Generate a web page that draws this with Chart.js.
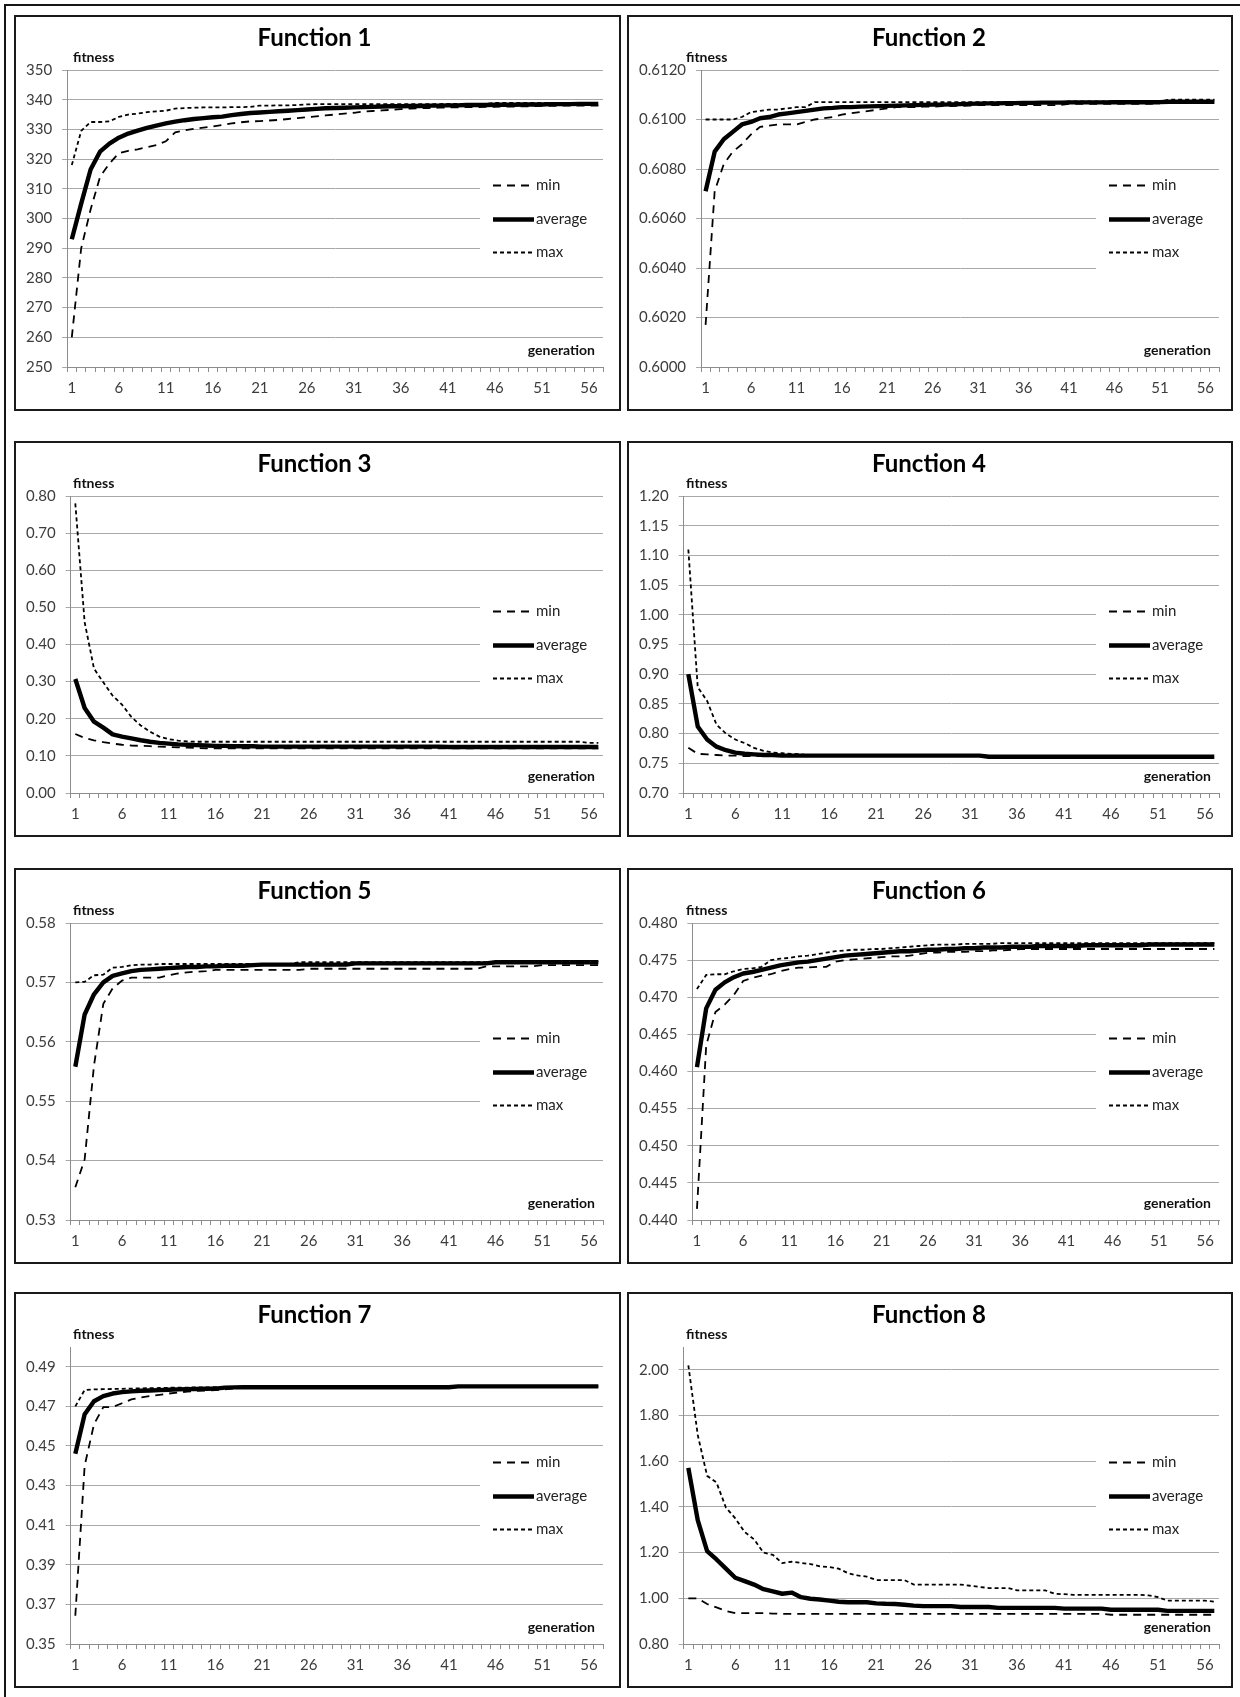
<!DOCTYPE html>
<html>
<head>
<meta charset="utf-8">
<script src="https://cdn.jsdelivr.net/npm/chart.js@4.4.1/dist/chart.umd.min.js"></script>
<style>
html,body{margin:0;padding:0;background:#fff;}
#page{position:relative;width:1240px;height:1697px;background:#fff;overflow:hidden;}
.frameL{position:absolute;left:4px;top:4px;width:2px;height:1693px;background:#151515;}
.frameT{position:absolute;left:4px;top:4px;width:1236px;height:2px;background:#151515;}
.panel{position:absolute;box-sizing:border-box;border:2px solid #1a1a1a;background:#fff;}
.panel canvas{display:block;}
</style>
</head>
<body>
<div id="page"><div class="frameL"></div><div class="frameT"></div></div>
<script>
// ---------- categories ----------
const generations = [1,2,3,4,5,6,7,8,9,10,11,12,13,14,15,16,17,18,19,20,21,22,23,24,25,26,27,28,29,30,
  31,32,33,34,35,36,37,38,39,40,41,42,43,44,45,46,47,48,49,50,51,52,53,54,55,56,57];
const seriesNames = ['min', 'average', 'max'];
const yAxisTitle = 'fitness';
const xAxisTitle = 'generation';
const panelTitles = ['Function 1','Function 2','Function 3','Function 4','Function 5','Function 6','Function 7','Function 8'];

// ---------- Function 1 ----------
const f1Min = [260,290,303,314,318.5,322,322.8,323.3,324,324.7,
  326,329,329.7,330.2,330.6,331,331.5,332,332.4,332.7,
  332.8,333,333.2,333.5,333.8,334.1,334.4,334.7,335,335.3,
  335.6,336,336.2,336.4,336.6,336.8,337,337.1,337.2,337.3,
  337.4,337.4,337.5,337.5,337.6,337.6,337.7,337.7,337.8,337.8,
  337.9,337.9,338,338,338,338,338];
const f1Avg = [293,305,316.5,322.5,325.2,327.2,328.6,329.6,330.5,331.3,
  332,332.6,333.1,333.5,333.8,334.1,334.3,334.8,335.2,335.5,
  335.7,335.9,336.1,336.3,336.5,336.7,336.9,337.1,337.2,337.3,
  337.4,337.5,337.6,337.7,337.8,337.8,337.9,337.9,338,338,
  338.1,338.1,338.2,338.2,338.2,338.3,338.3,338.3,338.4,338.4,
  338.4,338.5,338.5,338.5,338.6,338.6,338.6];
const f1Max = [318,329.5,332.5,332.5,332.7,334.2,335,335.3,335.8,336.1,
  336.3,337,337.2,337.3,337.4,337.4,337.4,337.5,337.5,337.6,
  338,338,338.1,338.1,338.2,338.4,338.5,338.5,338.5,338.5,
  338.5,338.5,338.5,338.5,338.5,338.5,338.5,338.5,338.5,338.5,
  338.6,338.6,338.6,338.6,338.6,338.9,338.9,338.9,338.9,338.9,
  338.9,338.9,338.9,338.9,338.9,338.9,338.9];
const f1Ticks = [250,260,270,280,290,300,310,320,330,340,350];

// ---------- Function 2 ----------
const f2Min = [0.6017,0.6071,0.6082,0.6087,0.609,0.6094,0.6097,0.60975,0.6098,0.6098,
  0.6098,0.6099,0.61,0.61005,0.6101,0.6102,0.61025,0.6103,0.61035,0.6104,
  0.61045,0.6105,0.6105,0.6105,0.61052,0.61052,0.61054,0.61054,0.61055,0.61056,
  0.61058,0.61058,0.61058,0.61058,0.61058,0.61058,0.61058,0.61058,0.61058,0.61058,
  0.61063,0.61063,0.61063,0.61063,0.61063,0.61063,0.61063,0.61063,0.61063,0.61063,
  0.61068,0.61068,0.61068,0.61068,0.61068,0.61068,0.61068];
const f2Avg = [0.6071,0.6087,0.6092,0.6095,0.6098,0.6099,0.61005,0.6101,0.6102,0.61025,
  0.6103,0.61035,0.6104,0.61045,0.61047,0.6105,0.6105,0.61052,0.61053,0.61054,
  0.61055,0.61056,0.61057,0.61058,0.61059,0.6106,0.6106,0.61061,0.61062,0.61063,
  0.61064,0.61065,0.61065,0.61066,0.61066,0.61067,0.61067,0.61068,0.61068,0.61068,
  0.61069,0.61069,0.61069,0.61069,0.61069,0.6107,0.6107,0.6107,0.6107,0.6107,
  0.6107,0.61072,0.61072,0.61072,0.61072,0.61072,0.61072];
const f2Max = [0.61,0.61,0.61,0.61,0.6101,0.6103,0.61035,0.6104,0.6104,0.61045,
  0.6105,0.6105,0.6107,0.6107,0.6107,0.6107,0.6107,0.6107,0.6107,0.6107,
  0.6107,0.6107,0.6107,0.6107,0.6107,0.6107,0.6107,0.6107,0.6107,0.6107,
  0.6107,0.6107,0.6107,0.6107,0.6107,0.6107,0.6107,0.6107,0.6107,0.6107,
  0.61073,0.61073,0.61073,0.61073,0.61073,0.61073,0.61073,0.61073,0.61073,0.61073,
  0.61073,0.6108,0.6108,0.6108,0.6108,0.6108,0.6108];
const f2Ticks = [0.6,0.602,0.604,0.606,0.608,0.61,0.612];

// ---------- Function 3 ----------
const f3Min = [0.159,0.148,0.142,0.137,0.133,0.13,0.128,0.127,0.126,0.125,
  0.124,0.123,0.122,0.121,0.12,0.12,0.12,0.12,0.12,0.12,
  0.12,0.12,0.12,0.12,0.12,0.12,0.12,0.12,0.12,0.12,
  0.12,0.12,0.12,0.12,0.12,0.12,0.12,0.12,0.12,0.12,
  0.12,0.12,0.12,0.12,0.12,0.12,0.12,0.12,0.12,0.12,
  0.12,0.12,0.12,0.12,0.12,0.12,0.12];
const f3Avg = [0.307,0.229,0.192,0.176,0.158,0.152,0.147,0.142,0.138,0.135,
  0.133,0.131,0.13,0.129,0.128,0.127,0.127,0.126,0.126,0.126,
  0.125,0.125,0.125,0.125,0.125,0.125,0.125,0.125,0.125,0.125,
  0.125,0.125,0.125,0.125,0.125,0.125,0.125,0.125,0.125,0.125,
  0.124,0.124,0.124,0.124,0.124,0.124,0.124,0.124,0.124,0.124,
  0.124,0.124,0.124,0.124,0.124,0.124,0.124];
const f3Max = [0.78,0.46,0.335,0.298,0.262,0.238,0.205,0.182,0.165,0.152,
  0.145,0.141,0.139,0.138,0.138,0.138,0.138,0.138,0.138,0.138,
  0.138,0.138,0.138,0.138,0.138,0.138,0.138,0.138,0.138,0.138,
  0.138,0.138,0.138,0.138,0.138,0.138,0.138,0.138,0.138,0.138,
  0.138,0.138,0.138,0.138,0.138,0.138,0.138,0.138,0.138,0.138,
  0.138,0.138,0.138,0.138,0.138,0.135,0.135];
const f3Ticks = [0,0.1,0.2,0.3,0.4,0.5,0.6,0.7,0.8];

// ---------- Function 4 ----------
const f4Min = [0.776,0.766,0.765,0.764,0.763,0.763,0.762,0.762,0.762,0.762,
  0.762,0.762,0.762,0.762,0.762,0.762,0.762,0.762,0.762,0.762,
  0.762,0.762,0.762,0.762,0.762,0.762,0.762,0.762,0.762,0.762,
  0.762,0.762,0.761,0.761,0.761,0.761,0.761,0.761,0.761,0.761,
  0.761,0.761,0.761,0.761,0.761,0.761,0.761,0.761,0.761,0.761,
  0.761,0.761,0.761,0.761,0.761,0.761,0.761];
const f4Avg = [0.9,0.812,0.79,0.778,0.772,0.768,0.766,0.765,0.764,0.764,
  0.763,0.763,0.763,0.763,0.763,0.763,0.763,0.763,0.763,0.763,
  0.763,0.763,0.763,0.763,0.763,0.763,0.763,0.763,0.763,0.763,
  0.763,0.763,0.761,0.761,0.761,0.761,0.761,0.761,0.761,0.761,
  0.761,0.761,0.761,0.761,0.761,0.761,0.761,0.761,0.761,0.761,
  0.761,0.761,0.761,0.761,0.761,0.761,0.761];
const f4Max = [1.11,0.878,0.855,0.815,0.8,0.79,0.784,0.776,0.771,0.768,
  0.767,0.766,0.765,0.763,0.763,0.763,0.763,0.763,0.763,0.763,
  0.763,0.763,0.763,0.763,0.763,0.763,0.763,0.763,0.763,0.763,
  0.763,0.763,0.761,0.761,0.761,0.761,0.761,0.761,0.761,0.761,
  0.761,0.761,0.761,0.761,0.761,0.761,0.761,0.761,0.761,0.761,
  0.761,0.761,0.761,0.761,0.761,0.761,0.761];
const f4Ticks = [0.7,0.75,0.8,0.85,0.9,0.95,1.0,1.05,1.1,1.15,1.2];

// ---------- Function 5 ----------
const f5Min = [0.5355,0.5402,0.556,0.5664,0.569,0.5703,0.5708,0.5708,0.5708,0.5708,
  0.5712,0.5715,0.5717,0.5718,0.5719,0.5721,0.5721,0.5721,0.5721,0.5721,
  0.5721,0.5721,0.5721,0.5721,0.5721,0.5723,0.5723,0.5723,0.5723,0.5723,
  0.5723,0.5723,0.5723,0.5723,0.5723,0.5723,0.5723,0.5723,0.5723,0.5723,
  0.5723,0.5723,0.5723,0.5723,0.5727,0.5727,0.5727,0.5727,0.5727,0.5727,
  0.5729,0.5729,0.5729,0.5729,0.5729,0.5729,0.5729];
const f5Avg = [0.5558,0.5646,0.568,0.57,0.5711,0.5715,0.5719,0.5721,0.5722,0.5723,
  0.5724,0.5725,0.5726,0.5726,0.5727,0.5727,0.5728,0.5728,0.5728,0.5729,
  0.573,0.573,0.573,0.573,0.573,0.573,0.573,0.573,0.573,0.573,
  0.5732,0.5732,0.5732,0.5732,0.5732,0.5732,0.5732,0.5732,0.5732,0.5732,
  0.5732,0.5732,0.5732,0.5732,0.5732,0.5734,0.5734,0.5734,0.5734,0.5734,
  0.5734,0.5734,0.5734,0.5734,0.5734,0.5734,0.5734];
const f5Max = [0.57,0.5701,0.5712,0.5713,0.5725,0.5726,0.5729,0.573,0.573,0.5731,
  0.5731,0.5731,0.5731,0.5731,0.5731,0.5731,0.5731,0.5731,0.5731,0.5731,
  0.5731,0.5731,0.5731,0.5731,0.5734,0.5734,0.5734,0.5734,0.5734,0.5734,
  0.5734,0.5734,0.5734,0.5734,0.5734,0.5734,0.5734,0.5734,0.5734,0.5734,
  0.5734,0.5734,0.5734,0.5734,0.5734,0.5734,0.5734,0.5734,0.5735,0.5735,
  0.5735,0.5735,0.5735,0.5735,0.5735,0.5735,0.5735];
const f5Ticks = [0.53,0.54,0.55,0.56,0.57,0.58];

// ---------- Function 6 ----------
const f6Min = [0.4415,0.4635,0.468,0.469,0.4703,0.4722,0.4726,0.4729,0.4731,0.4735,
  0.4738,0.474,0.474,0.4741,0.4741,0.4748,0.475,0.4751,0.4752,0.4753,
  0.4754,0.4755,0.4755,0.4756,0.4758,0.476,0.476,0.4761,0.4761,0.4761,
  0.4762,0.4762,0.4763,0.4763,0.4764,0.4765,0.4765,0.4765,0.4765,0.4765,
  0.4765,0.4765,0.4765,0.4765,0.4765,0.4765,0.4765,0.4765,0.4765,0.4765,
  0.4765,0.4765,0.4765,0.4765,0.4765,0.4765,0.4765];
const f6Avg = [0.4606,0.4685,0.471,0.472,0.4727,0.4732,0.4734,0.4737,0.474,0.4743,
  0.4745,0.4747,0.4748,0.475,0.4752,0.4754,0.4756,0.4757,0.4758,0.4759,
  0.476,0.4761,0.4762,0.4762,0.4763,0.4764,0.4764,0.4765,0.4765,0.4766,
  0.4766,0.4767,0.4767,0.4767,0.4768,0.4768,0.4768,0.4769,0.4769,0.4769,
  0.4769,0.4769,0.477,0.477,0.477,0.477,0.477,0.477,0.477,0.4771,
  0.4771,0.4771,0.4771,0.4771,0.4771,0.4771,0.4771];
const f6Max = [0.4711,0.473,0.4731,0.4731,0.4735,0.4738,0.4739,0.4741,0.475,0.4752,
  0.4753,0.4755,0.4756,0.4758,0.476,0.4762,0.4763,0.4764,0.4764,0.4765,
  0.4765,0.4766,0.4767,0.4768,0.4769,0.477,0.4771,0.4771,0.4771,0.4772,
  0.4772,0.4772,0.4772,0.4773,0.4773,0.4773,0.4773,0.4773,0.4773,0.4773,
  0.4773,0.4773,0.4773,0.4773,0.4773,0.4773,0.4773,0.4773,0.4773,0.4773,
  0.4773,0.4773,0.4773,0.4773,0.4773,0.4773,0.4773];
const f6Ticks = [0.44,0.445,0.45,0.455,0.46,0.465,0.47,0.475,0.48];

// ---------- Function 7 ----------
const f7Min = [0.3643,0.44,0.461,0.4696,0.4697,0.4716,0.4735,0.4745,0.4752,0.4758,
  0.4765,0.477,0.4775,0.4778,0.478,0.4782,0.4786,0.479,0.4795,0.4797,
  0.4797,0.4797,0.4797,0.4797,0.4797,0.4797,0.4797,0.4797,0.4797,0.4797,
  0.4797,0.4797,0.4797,0.4797,0.4797,0.4797,0.4797,0.4797,0.4797,0.4797,
  0.4797,0.4801,0.4801,0.4801,0.4801,0.4801,0.4801,0.4801,0.4801,0.4801,
  0.4801,0.4801,0.4801,0.4801,0.4801,0.4801,0.4801];
const f7Avg = [0.4461,0.466,0.4726,0.4752,0.4765,0.4772,0.4776,0.4779,0.478,0.4782,
  0.4784,0.4786,0.4787,0.4788,0.4789,0.479,0.4795,0.4796,0.4797,0.4797,
  0.4797,0.4797,0.4797,0.4797,0.4797,0.4797,0.4797,0.4797,0.4797,0.4797,
  0.4797,0.4797,0.4797,0.4797,0.4797,0.4797,0.4797,0.4797,0.4797,0.4797,
  0.4797,0.4801,0.4801,0.4801,0.4801,0.4801,0.4801,0.4801,0.4801,0.4801,
  0.4801,0.4801,0.4801,0.4801,0.4801,0.4801,0.4801];
const f7Max = [0.47,0.4783,0.4786,0.4787,0.4788,0.4789,0.479,0.4791,0.4792,0.4793,
  0.4794,0.4795,0.4795,0.4796,0.4796,0.4797,0.4797,0.4797,0.4798,0.4798,
  0.4798,0.4798,0.4798,0.4798,0.4798,0.4798,0.4798,0.4798,0.4798,0.4798,
  0.4798,0.4798,0.4798,0.4798,0.4798,0.4798,0.4798,0.4798,0.4798,0.4798,
  0.4798,0.4801,0.4801,0.4801,0.4801,0.4801,0.4801,0.4801,0.4801,0.4801,
  0.4801,0.4801,0.4801,0.4801,0.4801,0.4801,0.4801];
const f7Ticks = [0.35,0.37,0.39,0.41,0.43,0.45,0.47,0.49];

// ---------- Function 8 ----------
const f8Min = [1.0,1.0,0.975,0.96,0.945,0.935,0.935,0.935,0.935,0.933,
  0.932,0.932,0.932,0.932,0.932,0.932,0.932,0.932,0.932,0.932,
  0.932,0.932,0.932,0.932,0.932,0.932,0.932,0.932,0.932,0.932,
  0.932,0.932,0.932,0.932,0.932,0.932,0.932,0.932,0.932,0.932,
  0.932,0.932,0.932,0.932,0.932,0.928,0.928,0.928,0.928,0.928,
  0.928,0.928,0.928,0.928,0.928,0.928,0.928];
const f8Avg = [1.571,1.342,1.207,1.17,1.13,1.09,1.075,1.06,1.04,1.03,
  1.02,1.025,1.005,0.998,0.995,0.99,0.985,0.983,0.983,0.983,
  0.978,0.976,0.975,0.972,0.968,0.966,0.966,0.966,0.966,0.962,
  0.962,0.962,0.962,0.958,0.958,0.958,0.958,0.958,0.958,0.958,
  0.955,0.955,0.955,0.955,0.955,0.95,0.95,0.95,0.95,0.95,
  0.95,0.945,0.945,0.945,0.945,0.945,0.945];
const f8Max = [2.02,1.715,1.536,1.507,1.397,1.35,1.29,1.258,1.2,1.19,
  1.154,1.16,1.155,1.15,1.14,1.137,1.13,1.11,1.1,1.095,
  1.08,1.08,1.08,1.08,1.06,1.06,1.06,1.06,1.06,1.06,
  1.055,1.05,1.045,1.045,1.045,1.035,1.035,1.035,1.035,1.02,
  1.018,1.015,1.015,1.015,1.015,1.015,1.015,1.015,1.015,1.013,
  1.005,0.99,0.99,0.99,0.99,0.99,0.985];
const f8Ticks = [0.8,1.0,1.2,1.4,1.6,1.8,2.0];

// ---------- axis ranges / formats ----------
const yRanges = [[250,350],[0.6,0.612],[0,0.8],[0.7,1.2],[0.53,0.58],[0.44,0.48],[0.35,0.5],[0.8,2.1]];
const yDecimals = [0,4,2,2,2,3,2,2];

const panelSeries = [
  [f1Min,f1Avg,f1Max],[f2Min,f2Avg,f2Max],[f3Min,f3Avg,f3Max],[f4Min,f4Avg,f4Max],
  [f5Min,f5Avg,f5Max],[f6Min,f6Avg,f6Max],[f7Min,f7Avg,f7Max],[f8Min,f8Avg,f8Max]
];
const panelTicks = [f1Ticks,f2Ticks,f3Ticks,f4Ticks,f5Ticks,f6Ticks,f7Ticks,f8Ticks];

// ---------- styling ----------
const FONT = 'Lato, "Open Sans", "DejaVu Sans", sans-serif';
const gridColor = '#a8a8a8';
const axisColor = '#8c8c8c';
const tickColor = '#3c3c3c';
const lineColor = '#000000';
const colLeft = [14, 627];
const colWidth = [607, 606];
const colRightPad = [16, 12];
const rowTop = [15, 441, 868, 1292];
const panelHeight = 396;

const excelExtras = {
  id: 'excelExtras',
  beforeDatasetsDraw(chart) {
    const {ctx, chartArea} = chart;
    const r = chartArea.right, t = chartArea.top;
    ctx.save();
    ctx.fillStyle = '#ffffff';
    ctx.fillRect(r - 123, t + 100, 123, 102);
    chart.data.datasets.forEach((ds, i) => {
      const y = Math.round(t + 115 + i * 33.5) + 0.5;
      ctx.beginPath();
      ctx.strokeStyle = ds.borderColor;
      ctx.lineWidth = ds.borderWidth;
      ctx.setLineDash(ds.borderDash || []);
      ctx.moveTo(r - 110, y);
      ctx.lineTo(r - 69, y);
      ctx.stroke();
      ctx.setLineDash([]);
      ctx.fillStyle = '#222';
      ctx.font = '15px ' + FONT;
      ctx.textAlign = 'left';
      ctx.textBaseline = 'middle';
      ctx.fillText(ds.label, r - 67, y);
    });
    ctx.restore();
  },
  afterDraw(chart) {
    const {ctx, chartArea} = chart;
    ctx.save();
    ctx.fillStyle = '#111';
    ctx.font = 'bold 14px ' + FONT;
    ctx.textBaseline = 'middle';
    ctx.textAlign = 'left';
    ctx.fillText(yAxisTitle, 57, chartArea.top - 13);
    ctx.textAlign = 'right';
    ctx.fillText(xAxisTitle, chartArea.right - 8, chartArea.bottom - 17);
    ctx.restore();
  }
};

function buildChart(idx) {
  const col = idx % 2, row = Math.floor(idx / 2);
  const div = document.createElement('div');
  div.className = 'panel';
  div.style.left = colLeft[col] + 'px';
  div.style.top = rowTop[row] + 'px';
  div.style.width = colWidth[col] + 'px';
  div.style.height = panelHeight + 'px';
  const cv = document.createElement('canvas');
  cv.width = colWidth[col] - 4;
  cv.height = panelHeight - 4;
  cv.style.width = cv.width + 'px';
  cv.style.height = cv.height + 'px';
  div.appendChild(cv);
  document.getElementById('page').appendChild(div);

  const [sMin, sAvg, sMax] = panelSeries[idx];
  const ticks = panelTicks[idx];
  const dec = yDecimals[idx];

  return new Chart(cv.getContext('2d'), {
    type: 'line',
    data: {
      labels: generations,
      datasets: [
        {label: seriesNames[0], data: sMin, borderColor: lineColor, borderWidth: 1.8, borderDash: [8, 6],
         pointRadius: 0, pointHoverRadius: 0, tension: 0, fill: false, order: 3},
        {label: seriesNames[1], data: sAvg, borderColor: lineColor, borderWidth: 4.4, borderJoinStyle: 'round',
         pointRadius: 0, pointHoverRadius: 0, tension: 0, fill: false, order: 2},
        {label: seriesNames[2], data: sMax, borderColor: lineColor, borderWidth: 1.8, borderDash: [4, 3],
         pointRadius: 0, pointHoverRadius: 0, tension: 0, fill: false, order: 1}
      ]
    },
    options: {
      responsive: false,
      animation: false,
      devicePixelRatio: 1,
      layout: {padding: {left: 10, right: colRightPad[col], top: 2.6, bottom: 5}},
      plugins: {
        legend: {display: false},
        tooltip: {enabled: false},
        title: {
          display: true, text: panelTitles[idx], color: '#000',
          font: {family: FONT, size: 24, weight: 'bold'},
          padding: {top: 4, bottom: 17.6}
        }
      },
      scales: {
        x: {
          type: 'category',
          offset: true,
          grid: {display: true, drawOnChartArea: false, drawTicks: true, tickLength: 5, offset: true,
                 color: axisColor, lineWidth: 1},
          border: {display: true, color: axisColor, width: 1},
          ticks: {
            autoSkip: false, maxRotation: 0, minRotation: 0, padding: 7, color: tickColor,
            font: {family: FONT, size: 15},
            callback: function(val, i) { return i % 5 === 0 ? String(this.getLabelForValue(val)) : ''; }
          }
        },
        y: {
          type: 'linear',
          min: yRanges[idx][0],
          max: yRanges[idx][1],
          afterBuildTicks: (axis) => { axis.ticks = ticks.map(v => ({value: v})); },
          afterFit: (axis) => { axis.width -= 10; },
          grid: {color: gridColor, lineWidth: 1, drawTicks: true, tickLength: 5},
          border: {display: true, color: axisColor, width: 1},
          ticks: {
            padding: 10, color: tickColor, font: {family: FONT, size: 15},
            callback: (v) => Number(v).toFixed(dec)
          }
        }
      }
    },
    plugins: [excelExtras]
  });
}

function start() {
  for (let i = 0; i < 8; i++) buildChart(i);
}
if (document.fonts && document.fonts.load) {
  Promise.all([
    document.fonts.load('bold 24px Lato'),
    document.fonts.load('15px Lato'),
    document.fonts.load('bold 14px Lato')
  ]).then(start, start);
} else {
  start();
}
</script>
</body>
</html>
